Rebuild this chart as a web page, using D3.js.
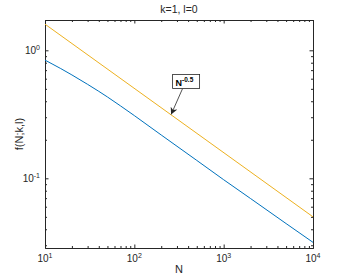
<!DOCTYPE html>
<html>
<head>
<meta charset="utf-8">
<script src="https://cdn.jsdelivr.net/npm/d3@7"></script>
<style>
    body { margin: 0; background: #fff; }
    text { font-family: "Liberation Sans", Arial, sans-serif; fill: #262626; }
</style>
</head>
<body>
<svg id="chart"></svg>
<script>
// values
const nValues = [10, 12, 15, 20, 30, 40, 50, 70, 100, 200, 500, 1000, 2000, 5000, 10000];
const fValues = [0.838, 0.783, 0.720, 0.642, 0.542, 0.478, 0.432, 0.368, 0.309, 0.218, 0.138, 0.0975, 0.0695, 0.0443, 0.0316];
const refN = [10, 10000];
const refF = [1.60, 0.050];
const xTickExps = [1, 2, 3, 4];
const yTickExps = [-1, 0];
const titleText = 'k=1, l=0';
const xLabel = 'N';
const yLabel = 'f(N;k,l)';
const noteN = 258;
const noteF = 0.315;

const config = {
    width: 346, height: 279,
    margin: {top: 20, right: 33, bottom: 31, left: 45}
};
const w = config.width - config.margin.left - config.margin.right;
const h = config.height - config.margin.top - config.margin.bottom;

const svg = d3.select('#chart')
    .attr('width', config.width)
    .attr('height', config.height);

const chart = svg.append('g')
    .attr('transform', `translate(${config.margin.left},${config.margin.top})`);

const xScale = d3.scaleLog().domain([10, 10000]).range([0, w]);
const yScale = d3.scaleLog().domain([0.02855, 1.7246]).range([h, 0]);

// minor tick values (2..9 in each decade)
const minorX = [];
[1, 2, 3].forEach(e => { for (let m = 2; m <= 9; m++) minorX.push(m * Math.pow(10, e)); });
const minorY = [];
[-2, -1, 0].forEach(e => {
    for (let m = 2; m <= 9; m++) {
        const v = m * Math.pow(10, e);
        if (v >= yScale.domain()[0] && v <= yScale.domain()[1]) minorY.push(v);
    }
});
const majorX = xTickExps.map(e => Math.pow(10, e));
const majorY = yTickExps.map(e => Math.pow(10, e));

const axisColor = '#262626';

function drawAxis(axis, transform) {
    const g = chart.append('g').attr('transform', transform).call(axis);
    g.selectAll('text').remove();
    g.select('.domain').attr('stroke', axisColor);
    g.selectAll('line').attr('stroke', axisColor);
    return g;
}

// box axes with inward ticks on all sides
drawAxis(d3.axisBottom(xScale).tickValues(majorX).tickSize(-3.5).tickSizeOuter(0), `translate(0,${h})`);
drawAxis(d3.axisBottom(xScale).tickValues(minorX).tickSize(-2).tickSizeOuter(0), `translate(0,${h})`);
drawAxis(d3.axisTop(xScale).tickValues(majorX).tickSize(-3.5).tickSizeOuter(0), 'translate(0,0)');
drawAxis(d3.axisTop(xScale).tickValues(minorX).tickSize(-2).tickSizeOuter(0), 'translate(0,0)');
drawAxis(d3.axisLeft(yScale).tickValues(majorY).tickSize(-3.5).tickSizeOuter(0), 'translate(0,0)');
drawAxis(d3.axisLeft(yScale).tickValues(minorY).tickSize(-2).tickSizeOuter(0), 'translate(0,0)');
drawAxis(d3.axisRight(yScale).tickValues(majorY).tickSize(-3.5).tickSizeOuter(0), `translate(${w},0)`);
drawAxis(d3.axisRight(yScale).tickValues(minorY).tickSize(-2).tickSizeOuter(0), `translate(${w},0)`);

// tick labels with superscripts
xTickExps.forEach(e => {
    const t = chart.append('text')
        .attr('x', xScale(Math.pow(10, e)))
        .attr('y', h + 14)
        .attr('text-anchor', 'middle')
        .attr('font-size', 10);
    t.append('tspan').text('10');
    t.append('tspan').attr('dy', -4).attr('font-size', 7).text(e);
});
yTickExps.forEach(e => {
    const t = chart.append('text')
        .attr('x', -5)
        .attr('y', yScale(Math.pow(10, e)) + 4)
        .attr('text-anchor', 'end')
        .attr('font-size', 10);
    t.append('tspan').text('10');
    t.append('tspan').attr('dy', -4).attr('font-size', 7).text(e);
});

// lines
const line = d3.line()
    .x(d => xScale(d[0]))
    .y(d => yScale(d[1]))
    .curve(d3.curveMonotoneX);

chart.append('path')
    .datum(nValues.map((n, i) => [n, fValues[i]]))
    .attr('fill', 'none')
    .attr('stroke', '#0072BD')
    .attr('stroke-width', 1)
    .attr('d', line);

chart.append('path')
    .datum(refN.map((n, i) => [n, refF[i]]))
    .attr('fill', 'none')
    .attr('stroke', '#EDB120')
    .attr('stroke-width', 1)
    .attr('d', line);

// title and axis labels
chart.append('text')
    .attr('x', w / 2)
    .attr('y', -7)
    .attr('text-anchor', 'middle')
    .attr('font-size', 10.5)
    .text(titleText);

chart.append('text')
    .attr('x', w / 2)
    .attr('y', h + 25)
    .attr('text-anchor', 'middle')
    .attr('font-size', 11)
    .text(xLabel);

chart.append('text')
    .attr('transform', `translate(-22,${h / 2}) rotate(-90)`)
    .attr('text-anchor', 'middle')
    .attr('font-size', 11)
    .text(yLabel);

// annotation: text box with arrow to the reference line
const tipX = xScale(noteN), tipY = yScale(noteF);
const boxX = tipX + 1.5, boxY = tipY - 40, boxW = 27, boxH = 14;

svg.append('defs').append('marker')
    .attr('id', 'arrow')
    .attr('viewBox', '0 0 10 10')
    .attr('refX', 10).attr('refY', 5)
    .attr('markerWidth', 7).attr('markerHeight', 7)
    .attr('markerUnits', 'userSpaceOnUse')
    .attr('orient', 'auto')
    .append('path')
    .attr('d', 'M0,0 L10,5 L0,10 L3,5 Z')
    .attr('fill', '#262626');

chart.append('line')
    .attr('x1', boxX + 10).attr('y1', boxY + boxH)
    .attr('x2', tipX).attr('y2', tipY)
    .attr('stroke', '#262626')
    .attr('stroke-width', 0.8)
    .attr('marker-end', 'url(#arrow)');

chart.append('rect')
    .attr('x', boxX).attr('y', boxY)
    .attr('width', boxW).attr('height', boxH)
    .attr('fill', '#fff')
    .attr('stroke', '#262626')
    .attr('stroke-width', 0.8);

const note = chart.append('text')
    .attr('x', boxX + 3)
    .attr('y', boxY + 11)
    .attr('font-size', 9)
    .attr('font-weight', 'bold')
    .style('fill', '#000');
note.append('tspan').text('N');
note.append('tspan').attr('dy', -3.5).attr('font-size', 6.5).text('-0.5');
</script>
</body>
</html>
